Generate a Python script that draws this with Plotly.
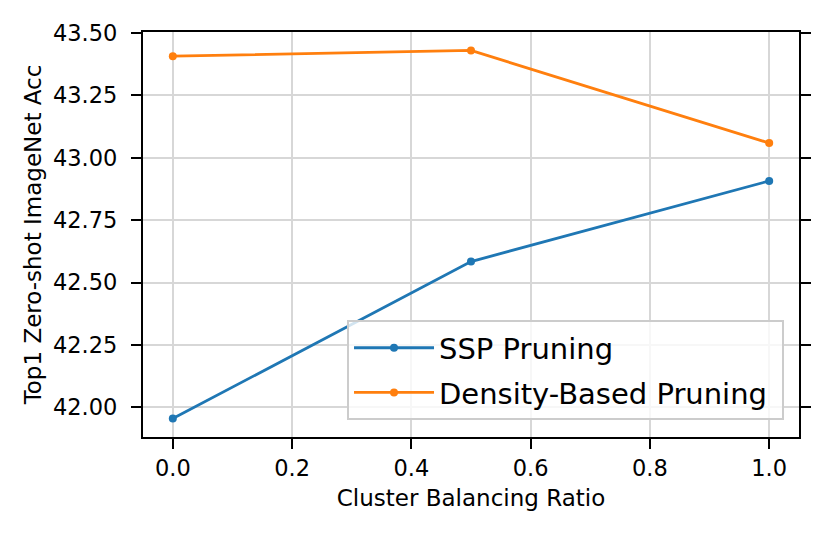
import plotly.graph_objects as go

ratios = [0.0, 0.5, 1.0]
ssp_acc = [41.955, 42.584, 42.907]
density_acc = [43.407, 43.430, 43.059]
x_ticks = [0.0, 0.2, 0.4, 0.6, 0.8, 1.0]
y_ticks = [42.00, 42.25, 42.50, 42.75, 43.00, 43.25, 43.50]

fig = go.Figure()
fig.add_trace(go.Scatter(x=ratios, y=ssp_acc, mode="lines+markers", name="SSP Pruning",
                         legendgroup="a",
                         line=dict(color="#1f77b4", width=2.8), marker=dict(size=8, color="#1f77b4")))
fig.add_trace(go.Scatter(x=ratios, y=density_acc, mode="lines+markers", name="Density-Based Pruning\u00a0",
                         legendgroup="b",
                         line=dict(color="#ff7f0e", width=2.8), marker=dict(size=8, color="#ff7f0e")))

axis_common = dict(showline=True, linecolor="black", linewidth=2.2, ticks="outside",
                   ticklen=10, tickwidth=2.2, tickcolor="black", showgrid=True,
                   gridcolor="#d7d7d7", gridwidth=2, zeroline=False,
                   tickfont=dict(size=22.5, color="black"))
fig.update_layout(
    width=830, height=535,
    margin=dict(l=135, r=39, t=21, b=106),
    paper_bgcolor="white", plot_bgcolor="white",
    font=dict(family="DejaVu Sans", color="black"),
    xaxis=dict(range=[-0.05, 1.05], tickvals=x_ticks, ticktext=[f"{v:.1f}" for v in x_ticks],
               mirror=True, title=dict(text="Cluster Balancing Ratio", font=dict(size=23), standoff=10),
               **axis_common),
    yaxis=dict(range=[41.881, 43.504], tickvals=y_ticks, ticktext=[f"{v:.2f}" for v in y_ticks],
               mirror="ticks", ticklabelstandoff=9,
               title=dict(text="Top1 Zero-shot ImageNet Acc", font=dict(size=23), standoff=5),
               **axis_common),
    legend=dict(x=0.311, xanchor="left", y=0.041, yanchor="bottom",
                bgcolor="rgba(255,255,255,0.8)", bordercolor="#cccccc", borderwidth=2,
                font=dict(size=29), itemwidth=80, tracegroupgap=4),
    showlegend=True,
)
fig.write_html("out.html")
